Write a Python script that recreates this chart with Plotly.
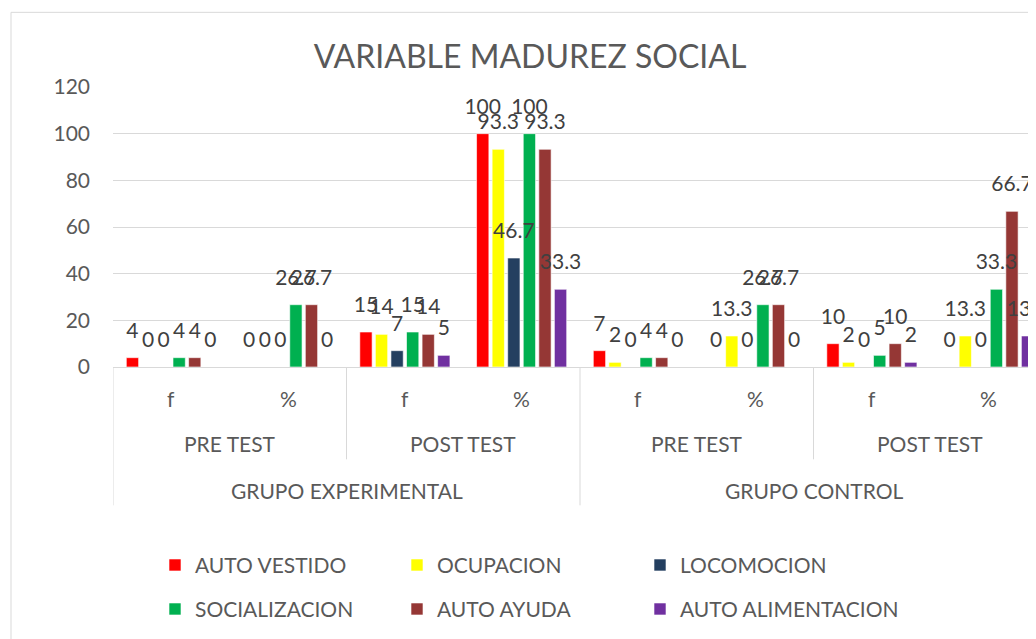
import plotly.graph_objects as go

# ---- data ----
groups = ["GRUPO EXPERIMENTAL", "GRUPO CONTROL"]
tests = ["PRE TEST", "POST TEST"]
measures = ["f", "%"]

series_names = ["AUTO VESTIDO", "OCUPACION", "LOCOMOCION",
                "SOCIALIZACION", "AUTO AYUDA", "AUTO ALIMENTACION"]
auto_vestido = [4, 0, 15, 100, 7, 0, 10, 0]
ocupacion = [0, 0, 14, 93.3, 2, 13.3, 2, 13.3]
locomocion = [0, 0, 7, 46.7, 0, 0, 0, 0]
socializacion = [4, 26.7, 15, 100, 4, 26.7, 5, 33.3]
auto_ayuda = [4, 26.7, 14, 93.3, 4, 26.7, 10, 66.7]
auto_alimentacion = [0, 0, 5, 33.3, 0, 0, 2, 13.3]
series_values = [auto_vestido, ocupacion, locomocion,
                 socializacion, auto_ayuda, auto_alimentacion]
colors = ["#FF0000", "#FFFF00", "#243F60", "#00B050", "#953735", "#7030A0"]

y_ticks = [0, 20, 40, 60, 80, 100, 120]

FONT = "Lato"
GRAY = "#595959"

# page body margin offset (screen px -> figure px)
OFF = 8
W, H = 1036 - OFF, 639 - OFF
# plot-area geometry in screen pixels
L_S, R_S = 113, 1036
T_S, B_S = 86.67, 366.67
PW, PH = R_S - L_S, B_S - T_S
CAT_W = (1047 - 113) / 8.0


def py(p):  # screen pixel y -> paper y
    return (B_S - p) / PH


def px(p):  # screen pixel x -> paper x
    return (p - L_S) / PW


def fmt(v):
    return str(int(v)) if float(v).is_integer() else f"{v}"


xs = list(range(len(groups) * len(tests) * len(measures)))

fig = go.Figure()
legend_pos = [(155, 565), (397, 565), (640, 565),
              (155, 609), (397, 609), (640, 609)]
for i, (name, vals, col) in enumerate(zip(series_names, series_values, colors)):
    lg = "legend" if i == 0 else f"legend{i + 1}"
    fig.add_trace(go.Bar(
        x=xs, y=vals, name=name,
        marker=dict(color=col, line=dict(color="white", width=0.6)),
        legend=lg,
        hoverinfo="skip",
    ))
# data labels drawn above all bars
for i, (name, vals) in enumerate(zip(series_names, series_values)):
    fig.add_trace(go.Scatter(
        x=xs, y=vals, mode="markers+text",
        text=[fmt(v) for v in vals],
        textposition="top center",
        marker=dict(size=22, opacity=0),
        textfont=dict(family=FONT, size=21, color="#404040"),
        cliponaxis=False, showlegend=False, hoverinfo="skip",
    ))

shapes = []
annotations = []
line_style = dict(color="#D9D9D9", width=1)

# chart border
shapes.append(dict(type="line", xref="paper", yref="paper",
                   x0=px(11), x1=px(11), y0=py(12), y1=py(700), line=line_style))
shapes.append(dict(type="line", xref="paper", yref="paper",
                   x0=px(11), x1=px(1100), y0=py(12), y1=py(12), line=line_style))

# hierarchical category labels & separators
for gi, g in enumerate(groups):
    gstart = gi * 4
    shapes.append(dict(type="line", xref="x", yref="paper",
                       x0=gstart - 0.5, x1=gstart - 0.5, y0=0, y1=py(505),
                       line=line_style))
    annotations.append(dict(xref="x", yref="paper", x=gstart + 1.5, y=py(490),
                            text=g, showarrow=False, yanchor="middle",
                            font=dict(family=FONT, size=21, color=GRAY)))
    for ti, t in enumerate(tests):
        tstart = gstart + ti * 2
        if ti > 0:
            shapes.append(dict(type="line", xref="x", yref="paper",
                               x0=tstart - 0.5, x1=tstart - 0.5, y0=0, y1=py(459),
                               line=line_style))
        annotations.append(dict(xref="x", yref="paper", x=tstart + 0.5, y=py(443),
                                text=t, showarrow=False, yanchor="middle",
                                font=dict(family=FONT, size=21, color=GRAY)))
        for mi, m in enumerate(measures):
            annotations.append(dict(xref="x", yref="paper", x=tstart + mi, y=py(398),
                                    text=m, showarrow=False, yanchor="middle",
                                    font=dict(family=FONT, size=21, color=GRAY)))

legends = {}
for i, (lx, ly) in enumerate(legend_pos):
    key = "legend" if i == 0 else f"legend{i + 1}"
    legends[key] = dict(orientation="h", x=px(lx), xanchor="left", y=py(ly),
                        yanchor="middle",
                        font=dict(family=FONT, size=21, color=GRAY),
                        bgcolor="rgba(0,0,0,0)")

fig.update_layout(
    width=W, height=H,
    margin=dict(l=L_S - OFF, r=0, t=T_S - OFF, b=H - (B_S - OFF), pad=0,
                autoexpand=False),
    paper_bgcolor="white", plot_bgcolor="white",
    barmode="group", bargap=0.2, bargroupgap=0.21,
    scattermode="group", scattergap=0.2,
    title=dict(text="VARIABLE MADUREZ SOCIAL", x=(530 - OFF) / W, xanchor="center",
               y=1 - (56.5 - OFF) / H, yanchor="middle",
               font=dict(family=FONT, size=32, color=GRAY)),
    font=dict(family=FONT, size=21, color=GRAY),
    xaxis=dict(range=[-0.5, -0.5 + PW / CAT_W], showticklabels=False,
               showgrid=False, zeroline=False, showline=True,
               linecolor="#D9D9D9", linewidth=1, ticks=""),
    yaxis=dict(range=[0, 120], tickvals=y_ticks, showgrid=True,
               gridcolor="#D9D9D9", gridwidth=1, zeroline=False,
               showline=False, ticks="", ticklabelstandoff=22,
               tickfont=dict(family=FONT, size=21, color=GRAY)),
    shapes=shapes,
    annotations=annotations,
    showlegend=True,
    **legends,
)

fig.write_html("out.html")
